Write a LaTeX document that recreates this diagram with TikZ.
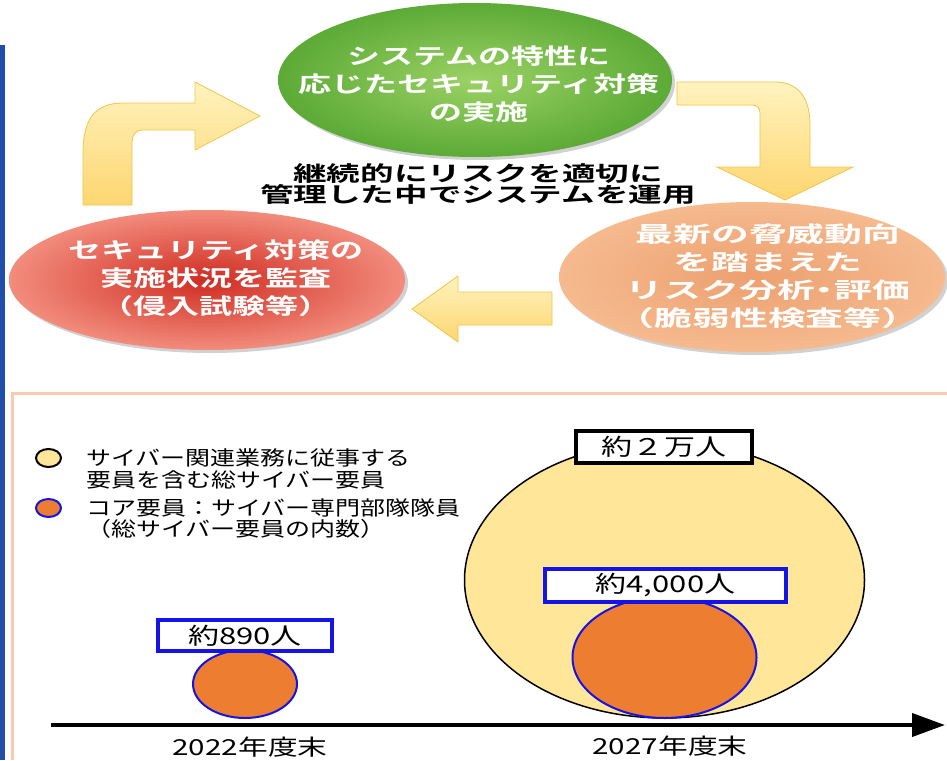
\documentclass[tikz,border=0pt]{standalone}
\usepackage{fontspec}
\usetikzlibrary{shapes.geometric,arrows.meta}
\newfontfamily\jpb[FakeStretch=1.5]{Noto Sans CJK JP Bold}
\newfontfamily\jpo[FakeStretch=1.72]{Noto Sans CJK JP Bold}
\newfontfamily\jpc[FakeStretch=1.6]{Noto Sans CJK JP Bold}
\newfontfamily\jpr[FakeStretch=1.25]{Noto Sans CJK JP}
\newfontfamily\jpn[FakeStretch=1.35]{Noto Sans CJK JP}
\definecolor{barblue}{RGB}{32,78,170}
\definecolor{peach}{RGB}{248,203,173}
\definecolor{arrfill1}{RGB}{255,243,190}
\definecolor{arrfill2}{RGB}{253,214,112}
\definecolor{arrline}{RGB}{244,196,72}
\definecolor{grin}{RGB}{155,210,100}
\definecolor{grout}{RGB}{92,170,55}
\definecolor{redin}{RGB}{208,44,34}
\definecolor{redout}{RGB}{242,140,124}
\definecolor{orin}{RGB}{237,160,112}
\definecolor{orout}{RGB}{245,186,142}
\definecolor{cyellow}{RGB}{255,230,153}
\definecolor{corange}{RGB}{237,125,49}
\definecolor{cblue}{RGB}{20,20,230}
\tikzset{
  ell/.style={ellipse, inner sep=0pt},
  yarrow/.style={top color=arrfill1, bottom color=arrfill2, draw=arrline, line width=0.8pt},
  wtext/.style={text=white, align=center, inner sep=0pt, font=\jpb\fontsize{22}{27.7}\selectfont},
  otext/.style={text=white, align=center, inner sep=0pt, font=\jpo\fontsize{22}{27.8}\selectfont},
  ctext/.style={text=black, align=center, inner sep=0pt, font=\jpc\fontsize{21}{21.5}\selectfont},
  ltext/.style={text=black, align=left, anchor=west, inner sep=0pt, font=\jpr\fontsize{20}{21.5}\selectfont},
  numbox/.style={draw=cblue, fill=white, line width=3.5pt, inner sep=0pt, font=\jpn\fontsize{23}{23}\selectfont},
  yrtext/.style={inner sep=0pt, font=\jpn\fontsize{22}{22}\selectfont},
  esh/.style={fill=black!18}
}
\begin{document}
\begin{tikzpicture}[x=1pt,y=-1pt]
\useasboundingbox (0,0) rectangle (947,760);
\fill[white] (0,0) rectangle (947,760);
% left bar and panel frame
\fill[barblue] (0,45) rectangle (5,760);
\coordinate (fr1) at (12,760);
\coordinate (fr2) at (12,393);
\coordinate (fr3) at (947,393);
\draw[peach, line width=3pt] (fr1) -- (fr2) -- (fr3);

% ---------- top cycle ----------
% arrows
\path[yarrow] (83,205) -- (83,153) .. controls (83,118) and (96,103) .. (123,103)
  -- (195,103) -- (195,82) -- (260,116) -- (195,150) -- (195,130) -- (142,130)
  .. controls (136,130) and (132,135) .. (132,142) -- (132,205) -- cycle;
\path[yarrow] (677,82) -- (775,82) .. controls (800,82) and (810,100) .. (810,125)
  -- (810,167) -- (853,167) -- (785,200) -- (717,167) -- (760,167) -- (760,113)
  .. controls (760,108) and (757,105) .. (752,105) -- (677,105) -- cycle;
\path[yarrow] (552,292) -- (458,292) -- (458,276) -- (412,309) -- (458,342)
  -- (458,325) -- (552,325) -- cycle;

% ellipse shadows
\fill[esh] (478,83) ellipse [x radius=197, y radius=77];
\fill[esh] (210,283) ellipse [x radius=198, y radius=70];
\fill[esh] (755,280) ellipse [x radius=193, y radius=75];
% ellipses
\node[ell, minimum width=394pt, minimum height=154pt, inner color=grin, outer color=grout] (green) at (475,80) {};
\node[ell, minimum width=396pt, minimum height=140pt, inner color=redin, outer color=redout] (red) at (207,280) {};
\node[ell, minimum width=386pt, minimum height=150pt, inner color=orin, outer color=orout] (orange) at (752,277) {};

\node[wtext] (greentxt) at (479,84) {システムの特性に\\応じたセキュリティ対策\\の実施};
\node[wtext] (redtxt) at (216,278) {セキュリティ対策の\\実施状況を監査\\（侵入試験等）};
\node[otext] (oratxt) at (768,276) {最新の脅威動向\\を踏まえた\\リスク分析\hspace{-9pt}・\hspace{-9pt}評価\\（脆弱性検査等）};
\node[ctext] (center) at (478,184) {継続的にリスクを適切に\\管理した中でシステムを運用};

% ---------- bottom chart ----------
% legend
\node[ell, draw=black, line width=2pt, fill=cyellow, minimum width=25pt, minimum height=18pt] (legy) at (48.5,458) {};
\node[ell, draw=cblue, line width=2pt, fill=corange, minimum width=25pt, minimum height=18pt] (lego) at (48.5,508) {};
\node[ltext] (legytxt) at (86,469) {サイバー関連業務に従事する\\要員を含む総サイバー要員};
\node[ltext] (legotxt) at (86,518.5) {コア要員：サイバー専門部隊隊員\\（総サイバー要員の内数）};

% big circles
\node[ell, draw=black, line width=1.5pt, fill=cyellow, minimum width=400pt, minimum height=276pt] (bigy) at (664.5,580) {};
\node[ell, draw=cblue, line width=2pt, fill=corange, minimum width=184pt, minimum height=121pt] (bigo) at (664.5,657.5) {};
\node[ell, draw=cblue, line width=2pt, fill=corange, minimum width=104pt, minimum height=68pt] (smallo) at (245,684) {};

% value boxes
\node[numbox, draw=black, minimum width=176pt, minimum height=32pt] (b20k) at (664,447) {約２万人};
\node[numbox, minimum width=241pt, minimum height=33pt] (b4000) at (665.5,585.5) {約4,000人};
\node[numbox, minimum width=174pt, minimum height=31pt] (b890) at (245,635.5) {約890人};

% axis
\coordinate (axs) at (51,725);
\coordinate (axe) at (945,725);
\draw[line width=4pt, -{Triangle[length=33pt,width=23pt]}] (axs) -- (axe);
\node[yrtext] (y2022) at (250,747.5) {2022年度末};
\node[yrtext] (y2027) at (670,746) {2027年度末};
\end{tikzpicture}
\end{document}
